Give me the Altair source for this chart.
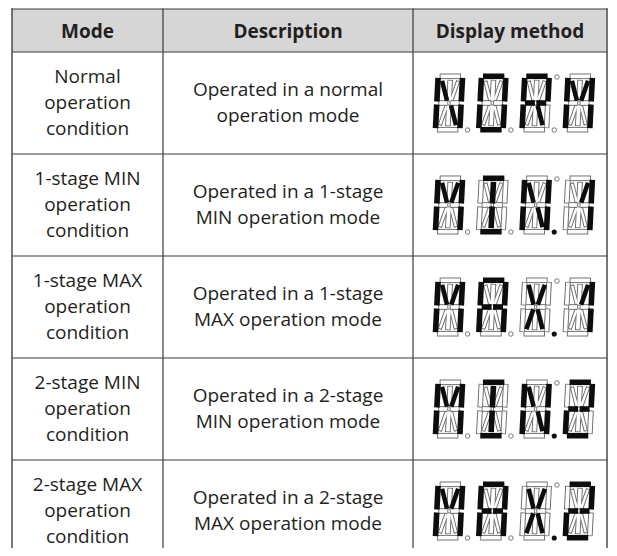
import altair as alt
import pandas as pd

# ---------------- data ----------------
headers = ["Mode", "Description", "Display method"]
modes = [
    "Normal\noperation\ncondition",
    "1-stage MIN\noperation\ncondition",
    "1-stage MAX\noperation\ncondition",
    "2-stage MIN\noperation\ncondition",
    "2-stage MAX\noperation\ncondition",
]
descriptions = [
    "Operated in a normal\noperation mode",
    "Operated in a 1-stage\nMIN operation mode",
    "Operated in a 1-stage\nMAX operation mode",
    "Operated in a 2-stage\nMIN operation mode",
    "Operated in a 2-stage\nMAX operation mode",
]
displays = ["NORM", "MIN.1", "MAX.1", "MIN.2", "MAX.2"]

# 14-segment font (lit segments per character)
glyphs = {
    "N": "f e b c h m",
    "O": "a b c d e f",
    "R": "a b f e g1 g2 m",
    "M": "f e b c h j",
    "I": "a d i l",
    "1": "b c j",
    "A": "a b c e f g1 g2",
    "X": "h j k m",
    "2": "a b g1 g2 e d",
}

# ---------------- layout (page pixels) ----------------
M = 8
W, H = 601, 540
col_edges = [12, 163, 413, 607]
table_top = 9
header_bottom = 52
row_h = 102
n_rows = len(modes)
row_edges = [header_bottom + row_h * k for k in range(n_rows + 1)]
LINE_H = 26

# digit geometry
DW, DH = 30.0, 59.0
SL = 3.0 / DH
PITCH = 43.3
DISP_X0 = 432.5
SWS, SWD = 5.6, 4.6
L_, R_, T_, B_ = SWS / 2, DW - SWS / 2, SWS / 2, DH - SWS / 2
MID, C_ = DH / 2, DW / 2
g = 1.5
seg_def = {
    "a": ((L_ + g, T_), (R_ - g, T_), "s"),
    "d": ((L_ + g, B_), (R_ - g, B_), "s"),
    "f": ((L_, T_ + g), (L_, MID - g), "s"),
    "e": ((L_, MID + g), (L_, B_ - g), "s"),
    "b": ((R_, T_ + g), (R_, MID - g), "s"),
    "c": ((R_, MID + g), (R_, B_ - g), "s"),
    "g1": ((L_ + g, MID), (C_ - g / 2, MID), "s"),
    "g2": ((C_ + g / 2, MID), (R_ - g, MID), "s"),
    "i": ((C_, T_ + g + 2), (C_, MID - g), "s"),
    "l": ((C_, MID + g), (C_, B_ - g - 2), "s"),
    "h": ((L_ + g + 2.6, T_ + g + 3.0), (C_ - g - 0.6, MID - g - 0.8), "d"),
    "j": ((R_ - g - 2.6, T_ + g + 3.0), (C_ + g + 0.6, MID - g - 0.8), "d"),
    "k": ((C_ - g - 0.6, MID + g + 0.8), (L_ + g + 2.6, B_ - g - 3.0), "d"),
    "m": ((C_ + g + 0.6, MID + g + 0.8), (R_ - g - 2.6, B_ - g - 3.0), "d"),
}

LIT = "#0d0d0d"
OFF = "#6a6a6a"

seg_rows_outline, seg_rows_inner, seg_rows_lit, dots = [], [], [], []
for r, code in enumerate(displays):
    chars = []
    for ch in code:
        if ch == ".":
            chars[-1][1] = True
        else:
            chars.append([ch, False])
    yc = (row_edges[r] + row_edges[r + 1]) / 2
    top = yc - DH / 2
    for d, (ch, dp) in enumerate(chars):
        x0 = DISP_X0 + PITCH * d
        on = set(glyphs[ch].split())

        def P(px, py):
            return x0 + px + SL * (DH - py), top + py

        for name, (p1, p2, kind) in seg_def.items():
            X1, Y1 = P(*p1)
            X2, Y2 = P(*p2)
            if name in on:
                seg_rows_lit.append(dict(x=X1, y=Y1, x2=X2, y2=Y2, c=LIT,
                                         sw=SWS if kind == "s" else SWD))
            else:
                seg_rows_outline.append(dict(x=X1, y=Y1, x2=X2, y2=Y2, c=OFF,
                                             sw=SWS if kind == "s" else SWD - 0.4))
                dx, dy = X2 - X1, Y2 - Y1
                ln = (dx * dx + dy * dy) ** 0.5
                ux, uy = dx / ln, dy / ln
                sh = 0.9
                seg_rows_inner.append(dict(x=X1 + ux * sh, y=Y1 + uy * sh,
                                           x2=X2 - ux * sh, y2=Y2 - uy * sh,
                                           c="#ffffff",
                                           sw=SWS - 1.9 if kind == "s" else SWD - 2.2))
        if d < 3:
            bx, by = P(DW + 5.0, DH - 2.5)
            dots.append(dict(x=bx, y=by, lit=dp))
        if d == 2:
            tx, ty = P(DW + 5.0, 3.5)
            dots.append(dict(x=tx, y=ty, lit=False))

seg_df = pd.DataFrame(seg_rows_outline + seg_rows_inner + seg_rows_lit)
dot_df = pd.DataFrame(dots)

xs = alt.Scale(domain=[M, M + W], range=[0, W], nice=False, zero=False)
ys = alt.Scale(domain=[M, M + H], range=[0, H], nice=False, zero=False)


def X(f):
    return alt.X(f, type="quantitative", scale=xs, axis=None)


def Y(f):
    return alt.Y(f, type="quantitative", scale=ys, axis=None)


# header background
hdr_df = pd.DataFrame([dict(x=col_edges[0], x2=col_edges[-1], y=table_top, y2=header_bottom)])
hdr = alt.Chart(hdr_df).mark_rect(color="#d6d6d6").encode(
    x=X("x"), x2="x2", y=Y("y"), y2="y2")

# grid lines
lines = []
for yv in [table_top, header_bottom] + row_edges[1:-1]:
    lines.append(dict(x=col_edges[0], x2=col_edges[-1], y=yv, y2=yv, c="#3a3a3a", sw=1.2))
for i, xv in enumerate(col_edges):
    outer = i in (0, len(col_edges) - 1)
    lines.append(dict(x=xv, x2=xv, y=table_top, y2=row_edges[-1],
                      c="#555555" if outer else "#3a3a3a", sw=1.6 if outer else 1.2))
grid_df = pd.DataFrame(lines)
grid = alt.Chart(grid_df).mark_rule(strokeCap="square").encode(
    x=X("x"), x2="x2", y=Y("y"), y2="y2",
    color=alt.Color("c:N", scale=None),
    strokeWidth=alt.StrokeWidth("sw:Q", scale=None))

segs = alt.Chart(seg_df).mark_rule(strokeCap="butt").encode(
    x=X("x"), x2="x2", y=Y("y"), y2="y2",
    color=alt.Color("c:N", scale=None),
    strokeWidth=alt.StrokeWidth("sw:Q", scale=None))

dot_off = alt.Chart(dot_df[~dot_df.lit]).mark_point(
    shape="circle", size=20, filled=False, color=OFF, fill="white", strokeWidth=0.9, opacity=1
).encode(x=X("x"), y=Y("y"))
dot_on = alt.Chart(dot_df[dot_df.lit]).mark_point(
    shape="circle", size=26, filled=True, color=LIT, opacity=1
).encode(x=X("x"), y=Y("y"))

# texts
col_centers = [(col_edges[i] + col_edges[i + 1]) / 2 for i in range(3)]
hdr_txt_df = pd.DataFrame([dict(x=col_centers[i], y=(table_top + header_bottom) / 2 + 1, t=headers[i])
                           for i in range(3)])
hdr_txt = alt.Chart(hdr_txt_df).mark_text(
    font="Open Sans", fontSize=19, fontWeight="bold", color="#231f20",
    align="center", baseline="middle"
).encode(x=X("x"), y=Y("y"), text="t:N")

body = []
for r in range(n_rows):
    yc = (row_edges[r] + row_edges[r + 1]) / 2
    for ci, txt in ((0, modes[r]), (1, descriptions[r])):
        n = txt.count("\n") + 1
        body.append(dict(x=col_centers[ci], y=yc - (n - 1) * LINE_H / 2, t=txt))
body_df = pd.DataFrame(body)
body_txt = alt.Chart(body_df).mark_text(
    font="Open Sans", fontSize=19, color="#231f20", align="center",
    baseline="middle", lineBreak="\n", lineHeight=LINE_H
).encode(x=X("x"), y=Y("y"), text="t:N")

chart = alt.layer(hdr, segs, dot_off, dot_on, grid, hdr_txt, body_txt).properties(
    width=W, height=H, padding=0, autosize=alt.AutoSizeParams(type="none")
).configure_view(stroke=None)

chart.save("out.html", embed_options={"renderer": "svg", "actions": False})
